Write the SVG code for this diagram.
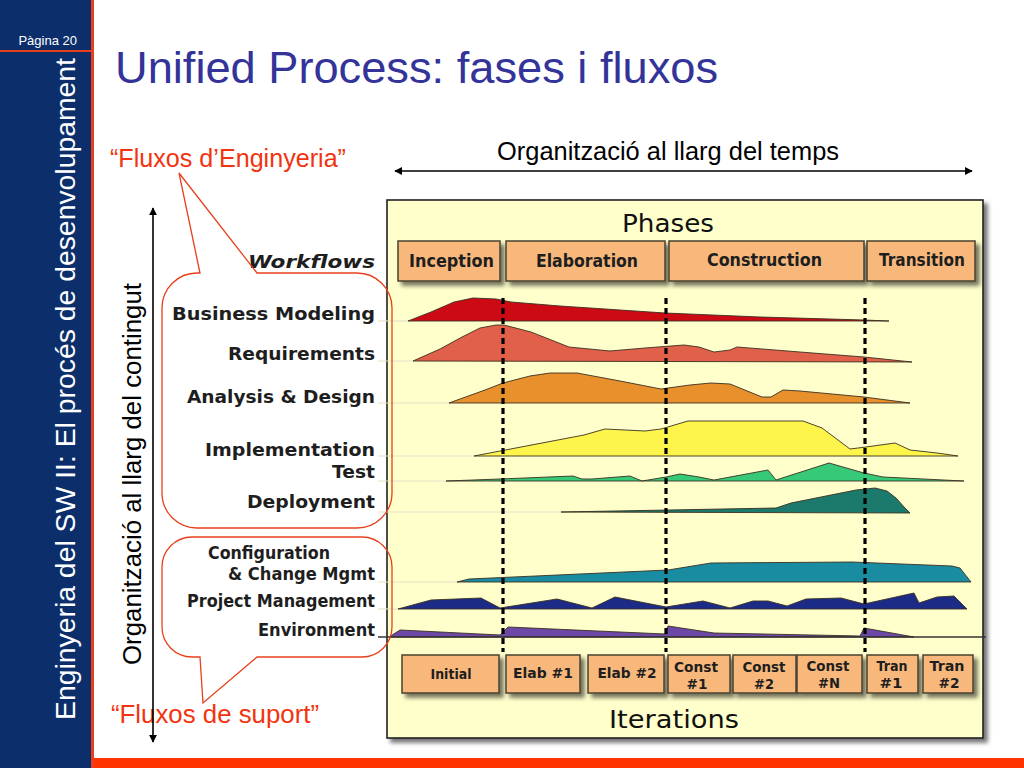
<svg xmlns="http://www.w3.org/2000/svg" width="1024" height="768" viewBox="0 0 1024 768">
<defs>
<style>
.side{fill:#0c2f6c}
.lbl{font-family:"DejaVu Sans",Verdana,sans-serif;font-weight:bold;fill:#1e1e1e}
.wf{font-family:"DejaVu Sans",Verdana,sans-serif;font-weight:bold;font-size:17px;fill:#1e1e1e}
.big{font-family:"DejaVu Sans",Verdana,sans-serif;font-size:25px;fill:#111}
.ann{font-family:"Liberation Sans",Arial,sans-serif;font-size:25px;fill:#000}
.red{font-family:"Liberation Sans",Arial,sans-serif;font-size:25px;fill:#f2330f}
.pbox{fill:#f8b87c;stroke:#4a4030;stroke-width:1.5}
.hump{stroke:#3a3020;stroke-width:0.9;stroke-linejoin:round}
.dash{stroke:#000;stroke-width:3.2;stroke-dasharray:6 4;fill:none}
.guide{stroke:#e4e2c4;stroke-width:1.2}
.callout{fill:none;stroke:#e8401c;stroke-width:1.3}
.arr{stroke:#000;stroke-width:1.6;fill:none}
</style>
<filter id="sh" x="-10%" y="-10%" width="130%" height="140%">
<feDropShadow dx="4" dy="4" stdDeviation="2" flood-color="#000" flood-opacity="0.55"/>
</filter>
<marker id="ah" viewBox="0 0 10 10" refX="9" refY="5" markerWidth="8" markerHeight="8" markerUnits="userSpaceOnUse" orient="auto-start-reverse">
<path d="M0,0 L10,5 L0,10 Z" fill="#000"/>
</marker>
</defs>

<rect width="1024" height="768" fill="#ffffff"/>

<!-- sidebar -->
<g id="sidebar">
<rect x="0" y="0" width="91" height="768" class="side"/>
<rect x="91" y="0" width="3" height="768" fill="#e8401c"/>
<rect x="0" y="50" width="91" height="2" fill="#e8401c"/>
<text x="77" y="45" text-anchor="end" font-family="Liberation Sans, Arial, sans-serif" font-size="13" fill="#ffffff">Pàgina 20</text>
<text transform="translate(75,720) rotate(-90)" font-family="Liberation Sans, Arial, sans-serif" font-size="28" fill="#ffffff" textLength="662" lengthAdjust="spacingAndGlyphs">Enginyeria del SW II: El procés de desenvolupament</text>
</g>
<rect id="bottom-bar" x="94" y="758" width="930" height="10" fill="#ff3300"/>

<text id="title" x="115" y="83" font-family="Liberation Sans, Arial, sans-serif" font-size="45" fill="#333399" textLength="603" lengthAdjust="spacingAndGlyphs">Unified Process: fases i fluxos</text>

<!-- annotations -->
<g id="time-axis">
<text x="497" y="160" class="ann" textLength="342" lengthAdjust="spacingAndGlyphs">Organització al llarg del temps</text>
</g>
<g id="content-axis">
<text transform="translate(141,665) rotate(-90)" class="ann" textLength="382" lengthAdjust="spacingAndGlyphs">Organització al llarg del contingut</text>
</g>
<g id="eng-label"><text x="110" y="167" class="red" textLength="236" lengthAdjust="spacingAndGlyphs">“Fluxos d’Enginyeria”</text></g>
<g id="sup-label"><text x="111" y="723" class="red" textLength="208" lengthAdjust="spacingAndGlyphs">“Fluxos de suport”</text></g>

<!-- chart panel -->
<g id="chart">
<rect x="387" y="200" width="596" height="538" fill="#ffffcc" stroke="#222" stroke-width="1.6" filter="url(#sh)"/>
<text x="622" y="232" class="big" textLength="92" lengthAdjust="spacingAndGlyphs">Phases</text>
<text x="609" y="728" class="big" textLength="130" lengthAdjust="spacingAndGlyphs">Iterations</text>
<g class="guides">
<line x1="378" y1="321" x2="408" y2="321" class="guide"/>
<line x1="378" y1="361" x2="413" y2="361" class="guide"/>
<line x1="378" y1="403" x2="449" y2="403" class="guide"/>
<line x1="378" y1="456" x2="474" y2="456" class="guide"/>
<line x1="378" y1="481" x2="446" y2="481" class="guide"/>
<line x1="378" y1="512" x2="561" y2="512" class="guide"/>
<line x1="378" y1="582" x2="457" y2="582" class="guide"/>
<line x1="378" y1="609" x2="398" y2="609" class="guide"/>
</g>
</g>

<!-- phases -->
<g id="phase-inception"><rect x="398" y="241" width="102" height="40" class="pbox" filter="url(#sh)"/><text x="409" y="267" class="lbl" font-size="17" textLength="85" lengthAdjust="spacingAndGlyphs">Inception</text></g>
<g id="phase-elaboration"><rect x="506" y="241" width="159" height="40" class="pbox" filter="url(#sh)"/><text x="536" y="267" class="lbl" font-size="17" textLength="102" lengthAdjust="spacingAndGlyphs">Elaboration</text></g>
<g id="phase-construction"><rect x="669" y="241" width="195" height="40" class="pbox" filter="url(#sh)"/><text x="707" y="266" class="lbl" font-size="17" textLength="115" lengthAdjust="spacingAndGlyphs">Construction</text></g>
<g id="phase-transition"><rect x="867" y="241" width="108" height="40" class="pbox" filter="url(#sh)"/><text x="879" y="266" class="lbl" font-size="17" textLength="86" lengthAdjust="spacingAndGlyphs">Transition</text></g>

<!-- workflow labels -->
<g id="workflow-labels">
<text x="248" y="268" class="wf" font-style="italic" font-size="18" textLength="127" lengthAdjust="spacingAndGlyphs">Workflows</text>
<text x="172" y="320" class="wf" textLength="203" lengthAdjust="spacingAndGlyphs">Business Modeling</text>
<text x="228" y="360" class="wf" textLength="147" lengthAdjust="spacingAndGlyphs">Requirements</text>
<text x="187" y="403" class="wf" textLength="188" lengthAdjust="spacingAndGlyphs">Analysis &amp; Design</text>
<text x="205" y="456" class="wf" textLength="170" lengthAdjust="spacingAndGlyphs">Implementation</text>
<text x="332" y="478" class="wf" textLength="43" lengthAdjust="spacingAndGlyphs">Test</text>
<text x="247" y="508" class="wf" textLength="128" lengthAdjust="spacingAndGlyphs">Deployment</text>
<text x="208" y="559" class="wf" font-size="16" textLength="122" lengthAdjust="spacingAndGlyphs">Configuration</text>
<text x="228" y="580" class="wf" font-size="16" textLength="147" lengthAdjust="spacingAndGlyphs">&amp; Change Mgmt</text>
<text x="187" y="607" class="wf" font-size="16" textLength="188" lengthAdjust="spacingAndGlyphs">Project Management</text>
<text x="258" y="636" class="wf" font-size="16" textLength="117" lengthAdjust="spacingAndGlyphs">Environment</text>
</g>

<!-- humps -->
<g id="humps">
<path class="hump" fill="#cc0a14" d="M408,321 L431,312 L454,302 L473,298 L496,299 L511,302 L560,306 L665,313 L760,317 L864,320 L889,321 Z"/>
<path class="hump" fill="#e0604a" d="M413,361 L440,349 L462,337 L480,328 L496,325 L504,325 L531,332 L569,347 L610,351 L645,348 L684,345 L699,347 L714,352 L730,350 L737,347 L800,352 L864,357 L912,362 Z"/>
<path class="hump" fill="#e8902c" d="M449,403 L485,390 L503,383 L530,376 L550,373 L577,373 L620,381 L661,389 L690,385 L711,383 L730,384 L762,397 L771,397 L783,390 L800,391 L864,397 L910,403 Z"/>
<path class="hump" fill="#fdf54c" d="M474,456 L584,435 L605,429 L645,431 L661,429 L688,421 L803,421 L822,428 L850,449 L866,447 L895,443 L910,450 L937,453 L958,456 Z"/>
<path class="hump" fill="#35c978" d="M446,481 L500,479 L573,476 L582,479 L592,479 L630,476 L642,481 L666,477 L680,474 L699,477 L714,480 L768,470 L776,480 L829,463 L864,473 L883,477 L964,481 Z"/>
<path class="hump" fill="#1b7a6c" d="M561,512 L776,508 L791,503 L826,496 L856,490 L875,488 L887,491 L896,498 L904,507 L910,513 Z"/>
<path class="hump" fill="#1a8ca2" d="M457,582 L469,579 L668,570 L711,563 L852,562 L952,566 L960,568 L971,582 Z"/>
<path class="hump" fill="#1b2b86" d="M398,609 L431,600 L481,598 L500,608 L557,599 L592,608 L615,597 L666,607 L703,601 L730,608 L753,601 L768,601 L787,606 L806,599 L841,598 L864,604 L914,593 L919,603 L937,597 L954,596 L967,609 Z"/>
<path class="hump" fill="#6e48a6" d="M389,637 L400,630 L500,635 L508,627 L665,634 L668,626 L714,633 L860,636 L864,628 L914,637 Z"/>
<line x1="378" y1="637" x2="986" y2="637" stroke="#333" stroke-width="1.5"/>
</g>

<!-- phase boundaries -->
<g id="milestones">
<line x1="503" y1="298" x2="503" y2="652" class="dash"/>
<line x1="666" y1="298" x2="666" y2="652" class="dash"/>
<line x1="865" y1="298" x2="865" y2="652" class="dash"/>
</g>

<!-- iterations -->
<g id="iter-initial"><rect x="402" y="655" width="97" height="38" class="pbox" filter="url(#sh)"/><text x="451" y="679" text-anchor="middle" class="lbl" font-size="14" textLength="41" lengthAdjust="spacingAndGlyphs">Initial</text></g>
<g id="iter-elab1"><rect x="506" y="655" width="74" height="38" class="pbox" filter="url(#sh)"/><text x="543" y="678" text-anchor="middle" class="lbl" font-size="14" textLength="60" lengthAdjust="spacingAndGlyphs">Elab #1</text></g>
<g id="iter-elab2"><rect x="588" y="655" width="76" height="38" class="pbox" filter="url(#sh)"/><text x="627" y="678" text-anchor="middle" class="lbl" font-size="14" textLength="59" lengthAdjust="spacingAndGlyphs">Elab #2</text></g>
<g id="iter-const1"><rect x="668" y="655" width="62" height="38" class="pbox" filter="url(#sh)"/><text x="696" y="672" text-anchor="middle" class="lbl" font-size="14" textLength="44" lengthAdjust="spacingAndGlyphs">Const</text><text x="697" y="689" text-anchor="middle" class="lbl" font-size="14" textLength="21" lengthAdjust="spacingAndGlyphs">#1</text></g>
<g id="iter-const2"><rect x="733" y="655" width="63" height="38" class="pbox" filter="url(#sh)"/><text x="764" y="672" text-anchor="middle" class="lbl" font-size="14" textLength="43" lengthAdjust="spacingAndGlyphs">Const</text><text x="764" y="689" text-anchor="middle" class="lbl" font-size="14" textLength="20" lengthAdjust="spacingAndGlyphs">#2</text></g>
<g id="iter-constN"><rect x="797" y="655" width="65" height="38" class="pbox" filter="url(#sh)"/><text x="828" y="671" text-anchor="middle" class="lbl" font-size="14" textLength="43" lengthAdjust="spacingAndGlyphs">Const</text><text x="829" y="688" text-anchor="middle" class="lbl" font-size="14" textLength="22" lengthAdjust="spacingAndGlyphs">#N</text></g>
<g id="iter-tran1"><rect x="867" y="655" width="51" height="38" class="pbox" filter="url(#sh)"/><text x="892" y="671" text-anchor="middle" class="lbl" font-size="14" textLength="31" lengthAdjust="spacingAndGlyphs">Tran</text><text x="891" y="688" text-anchor="middle" class="lbl" font-size="14" textLength="23" lengthAdjust="spacingAndGlyphs">#1</text></g>
<g id="iter-tran2"><rect x="923" y="655" width="50" height="38" class="pbox" filter="url(#sh)"/><text x="947" y="671" text-anchor="middle" class="lbl" font-size="14" textLength="35" lengthAdjust="spacingAndGlyphs">Tran</text><text x="949" y="688" text-anchor="middle" class="lbl" font-size="14" textLength="21" lengthAdjust="spacingAndGlyphs">#2</text></g>

<!-- connectors -->
<g id="connectors">
<line x1="395" y1="171" x2="972" y2="171" class="arr" marker-start="url(#ah)" marker-end="url(#ah)"/>
<line x1="153" y1="208" x2="153" y2="742" class="arr" marker-start="url(#ah)" marker-end="url(#ah)"/>
<path class="callout" d="M200,273 L179,173 L257,273 H357 A35,35 0 0 1 392,308 V493 A35,35 0 0 1 357,528 H197 A35,35 0 0 1 162,493 V308 A35,35 0 0 1 197,273 Z"/>
<path class="callout" d="M192,537 H362 A30,30 0 0 1 392,567 V627 A30,30 0 0 1 362,657 H257 L203,703 L200,657 H192 A30,30 0 0 1 162,627 V567 A30,30 0 0 1 192,537 Z"/>
</g>
</svg>
